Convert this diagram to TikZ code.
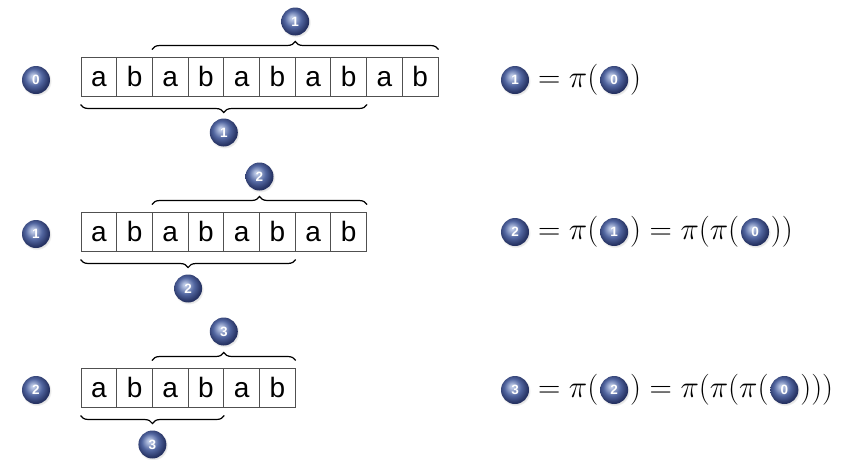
\RequirePackage{fix-cm}
\documentclass[tikz,border=0pt]{standalone}
\usepackage{fontspec}
\newfontfamily\hv{Liberation Sans}
\usetikzlibrary{decorations.pathreplacing,calc,positioning,shadows}
\definecolor{ballhi}{RGB}{185,198,228}
\definecolor{ballmid}{RGB}{82,102,160}
\definecolor{balldark}{RGB}{38,50,98}
\definecolor{cellline}{RGB}{80,80,80}
\pgfdeclareradialshading{myball}{\pgfpoint{-6bp}{7bp}}{%
  color(0bp)=(ballhi); color(3bp)=(ballhi); color(15bp)=(ballmid);
  color(26bp)=(balldark); color(50bp)=(balldark)}
\begin{document}
\begin{tikzpicture}[x=1pt,y=-1pt,
  cell/.style={draw=cellline, line width=1pt, minimum width=35.7pt, minimum height=39pt,
    inner sep=0pt, text height=20pt, text depth=0pt, font=\hv\fontsize{28}{28}\selectfont},
  ballnode/.style={circle, minimum size=28pt, inner sep=0pt, shade, shading=myball, text=white,
    font=\hv\bfseries\fontsize{13.5}{13.5}\selectfont,
    circular drop shadow={shadow xshift=0.6pt, shadow yshift=-1pt, opacity=0.22, shadow scale=1.08}},
  brc/.style={decorate, decoration={brace, amplitude=8pt}, line width=1.2pt},
  eq/.style={inner sep=0pt, font=\fontsize{31}{34}\selectfont}
]
\useasboundingbox (0,0) rectangle (852,459);

% ---- row 1 ----
\foreach \i in {1,...,10}
  \node[cell] (r1c\i) at ({81+35.7*(\i-0.5)},76.5) {\ifodd\i a\else b\fi};
\node[ballnode] (L1) at (36,80) {0};
\draw[brc] ([yshift=7pt]r1c3.north west) -- ([yshift=7pt]r1c10.north east);
\draw[brc] ([yshift=-8pt]r1c8.south east) -- ([yshift=-8pt]r1c1.south west);
\node[ballnode] (T1) at ($(r1c3.north west)!.5!(r1c10.north east)+(0,-35)$) {1};
\node[ballnode] (B1) at ($(r1c1.south west)!.5!(r1c8.south east)+(0,36)$) {1};

% ---- row 2 ----
\foreach \i in {1,...,8}
  \node[cell] (r2c\i) at ({81+35.7*(\i-0.5)},231.5) {\ifodd\i a\else b\fi};
\node[ballnode] (L2) at (36,234) {1};
\draw[brc] ([yshift=7pt]r2c3.north west) -- ([yshift=7pt]r2c8.north east);
\draw[brc] ([yshift=-8pt]r2c6.south east) -- ([yshift=-8pt]r2c1.south west);
\node[ballnode] (T2) at ($(r2c3.north west)!.5!(r2c8.north east)+(0,-35)$) {2};
\node[ballnode] (B2) at ($(r2c1.south west)!.5!(r2c6.south east)+(0,37)$) {2};

% ---- row 3 ----
\foreach \i in {1,...,6}
  \node[cell] (r3c\i) at ({81+35.7*(\i-0.5)},387.5) {\ifodd\i a\else b\fi};
\node[ballnode] (L3) at (36,390) {2};
\draw[brc] ([yshift=7pt]r3c3.north west) -- ([yshift=7pt]r3c6.north east);
\draw[brc] ([yshift=-8pt]r3c4.south east) -- ([yshift=-8pt]r3c1.south west);
\node[ballnode] (T3) at ($(r3c3.north west)!.5!(r3c6.north east)+(0,-36)$) {3};
\node[ballnode] (B3) at ($(r3c1.south west)!.5!(r3c4.south east)+(0,37)$) {3};

% ---- equations ----
\node[ballnode] (E1a) at (515,80) {1};
\node[eq, right=0pt of E1a] (E1b) {${}=\pi($};
\node[ballnode, right=1.5pt of E1b] (E1c) {0};
\node[eq, right=1.5pt of E1c] (E1d) {$)$};

\node[ballnode] (E2a) at (515,232) {2};
\node[eq, right=0pt of E2a] (E2b) {${}=\pi($};
\node[ballnode, right=1.5pt of E2b] (E2c) {1};
\node[eq, right=1.5pt of E2c] (E2d) {$)=\pi(\pi($};
\node[ballnode, right=1.5pt of E2d] (E2e) {0};
\node[eq, right=1.5pt of E2e] (E2f) {$))$};

\node[ballnode] (E3a) at (515,390) {3};
\node[eq, right=0pt of E3a] (E3b) {${}=\pi($};
\node[ballnode, right=1.5pt of E3b] (E3c) {2};
\node[eq, right=1.5pt of E3c] (E3d) {$)=\pi(\pi(\pi($};
\node[ballnode, right=1.5pt of E3d] (E3e) {0};
\node[eq, right=1.5pt of E3e] (E3f) {$)))$};
\end{tikzpicture}
\end{document}
